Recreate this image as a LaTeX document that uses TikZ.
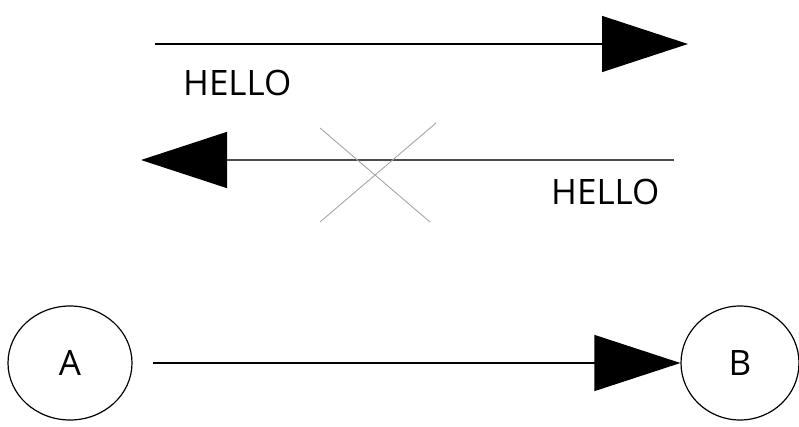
\documentclass[tikz,border=0pt]{standalone}
\usepackage{fontspec}
\setmainfont{Open Sans}
\usetikzlibrary{arrows.meta,shapes.geometric}
\begin{document}
\begin{tikzpicture}[x=1pt,y=-1pt,
  conn/.style={line width=1.3pt,-{Triangle[length=86pt,width=56pt,color=black]}},
  lbl/.style={font=\fontsize{35}{40}\selectfont, inner sep=0pt, anchor=base west},
  circ/.style={draw, ellipse, line width=1.2pt, minimum width=124pt, minimum height=114pt, inner sep=0pt, font=\fontsize{35}{40}\selectfont},
  crossline/.style={draw=gray!70, line width=0.9pt}]
\useasboundingbox (0,0) rectangle (799,427);
% top arrow
\coordinate (a1s) at (155,44);
\coordinate (a1e) at (688,44);
\draw[conn] (a1s) -- (a1e);
\node[lbl] (h1) at (183,96) {HELLO};
% second arrow
\coordinate (a2s) at (674,160);
\coordinate (a2e) at (141,160);
\draw[conn, draw=black!70] (a2s) -- (a2e);
\node[lbl] (h2) at (551,205) {HELLO};
% cross
\coordinate (c1) at (320,128);
\coordinate (c2) at (430,222);
\coordinate (c3) at (436,123);
\coordinate (c4) at (320,222);
\draw[crossline] (c1) -- (c2);
\draw[crossline] (c3) -- (c4);
% nodes
\node[circ] (A) at (70,363) {A};
\node[circ, minimum width=118pt] (B) at (740,363) {B};
\draw[conn, shorten <=20pt] (A) -- (B);
\end{tikzpicture}
\end{document}
